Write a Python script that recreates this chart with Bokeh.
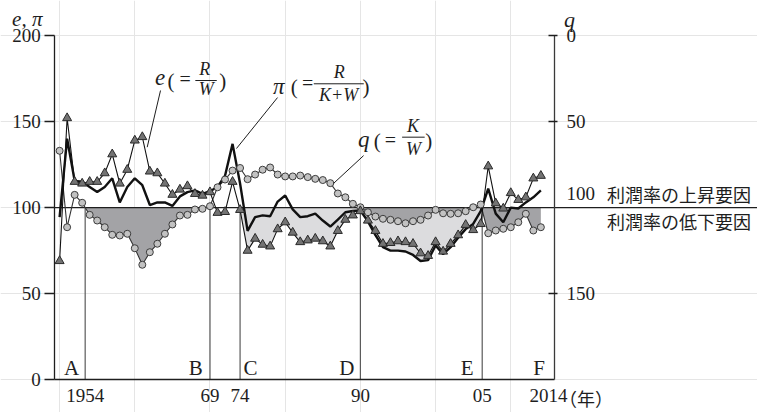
import numpy as np
from bokeh.plotting import figure
from bokeh.models import Range1d, LinearAxis, FixedTicker, Label
from bokeh.embed import file_html
from bokeh.resources import INLINE

# ---- data -------------------------------------------------------------
years = list(range(1950, 2015))

# e = R/W  (triangles)
e_ratio = [
    69, 152, 115, 114, 115, 115, 120, 131, 114, 122,
    139, 141, 121, 120, 114, 107.5, 110.5, 112.5, 108, 107,
    109, 97, 97.5, 115, 98.7, 75, 82, 78.5, 77.5, 87.5,
    91.5, 85.5, 80, 81, 82, 80.5, 77.5, 86.5, 93, 95.5,
    98, 92.5, 86.5, 79, 79.5, 80.5, 80, 79, 73.5, 72,
    80, 74.5, 79, 84, 90, 87, 90.5, 124, 102.5, 99.5,
    108.5, 104.5, 106, 117, 118.5,
]

# pi = R/(K+W)  (thick line)
pi_ratio = [
    94.5, 140, 115.5, 115, 112, 109, 112, 117, 103, 112,
    117, 113, 101.5, 103, 103, 101, 106.5, 109, 110, 108,
    109.5, 112, 118.5, 137, 114, 86.5, 94.5, 95.5, 95, 103.5,
    107, 99, 94.5, 95, 96.5, 92.5, 89, 93, 97.3, 98,
    98.3, 92, 84, 77, 75, 75, 74.5, 72.5, 69, 69.5,
    78, 73, 77, 82.5, 87.5, 90.5, 98, 111, 96.5, 91.5,
    100, 99.5, 103, 106, 110,
]

# q = K/W  (circles, read on the inverted right-hand scale)
q_ratio = [
    67, 111.4, 92.6, 97.2, 104.2, 107.5, 111.4, 115.8, 116.2, 115.2,
    123.6, 133.2, 125.9, 121, 115.2, 109.8, 104.6, 104.2, 101.1, 100.7,
    99.2, 88.2, 83.7, 78.5, 77, 83.5, 80.8, 78, 76.7, 80.8,
    81.9, 81.9, 81.4, 82.3, 83.3, 84, 85.8, 91.8, 94, 97.8,
    99.8, 102.7, 105.2, 106.5, 107.1, 107.9, 109.1, 107.9, 107.1, 104.6,
    101.3, 103.3, 103.6, 103.3, 102.1, 99.8, 98.2, 114.9, 113.3, 112.3,
    111.4, 108.5, 103.6, 113.3, 111.4,
]

# period boundaries and bottom tick labels
period_bounds = [1953.4, 1970.0, 1974.0, 1990.0, 2006.2]
tick_positions = period_bounds + [2015.0]
tick_labels = ["1954", "69", "74", "90", "05", "2014"]
period_letters = ["A", "B", "C", "D", "E", "F"]
letter_positions = [1951.6, 1968.1, 1975.4, 1988.2, 2004.2, 2013.75]

BASE = 100.0
# axis extents (data units) and the full drawing area around them
X_START, AXIS_END = 1949.36, 2015.81
VIEW_X = (1942.14, 2042.81)
VIEW_Y = (-18.99, 220.27)

SERIF = "Liberation Serif"
JP = "Noto Sans CJK JP"
INK = "#1e1e1e"


def decline_band(xs, ys, lo, hi, below=True):
    """Edge between BASE and a series on its 'decline' side, within [lo, hi]."""
    xs = np.asarray(xs, float)
    ys = np.asarray(ys, float)
    pts = [lo, hi] + [x for x in xs if lo < x < hi]
    for k in range(len(xs) - 1):
        a, b = ys[k] - BASE, ys[k + 1] - BASE
        if a * b < 0:
            xc = xs[k] + (xs[k + 1] - xs[k]) * a / (a - b)
            if lo < xc < hi:
                pts.append(xc)
    pts = np.array(sorted(pts))
    yv = np.interp(pts, xs, ys)
    return pts, (np.minimum(yv, BASE) if below else np.maximum(yv, BASE))


p = figure(
    width=757, height=412,
    x_range=Range1d(*VIEW_X), y_range=Range1d(*VIEW_Y),
    x_axis_location=None, y_axis_location=None,
    output_backend="svg", toolbar_location=None,
    min_border_left=0, min_border_right=0, min_border_top=0, min_border_bottom=0,
)
# q is read downward: 0 at the top of the left scale (200), 200 at its bottom (0)
p.extra_y_ranges = {"q": Range1d(200 - VIEW_Y[0], 200 - VIEW_Y[1])}
p.outline_line_color = None
p.background_fill_color = "white"
p.border_fill_color = "white"

# ---- axes -------------------------------------------------------------
label_style = dict(major_label_text_font=SERIF, major_label_text_font_size="19px",
                   major_label_text_color=INK)

xaxis = LinearAxis(
    ticker=FixedTicker(ticks=tick_positions),
    major_label_overrides={t: s for t, s in zip(tick_positions, tick_labels)},
    fixed_location=0, bounds=(X_START, AXIS_END),
    major_tick_in=0, major_tick_out=0, major_label_standoff=9,
    axis_line_color=INK, axis_line_width=1.3, **label_style,
)
p.add_layout(xaxis, "below")

yaxis = LinearAxis(
    ticker=FixedTicker(ticks=[0, 50, 100, 150, 200]),
    fixed_location=X_START, bounds=(0, 200),
    major_tick_in=0, major_tick_out=10, major_label_standoff=4,
    axis_line_color=INK, axis_line_width=1.3, major_tick_line_color=INK,
    major_tick_line_width=1.3, **label_style,
)
p.add_layout(yaxis, "left")

qaxis = LinearAxis(
    y_range_name="q", fixed_location=AXIS_END, bounds=(0, 200),
    ticker=FixedTicker(ticks=[0, 50, 150]),
    major_tick_in=6, major_tick_out=3, major_label_standoff=9,
    axis_line_color="#3a3a3a", axis_line_width=1.3, major_tick_line_color=INK,
    major_tick_line_width=1.3, **label_style,
)
p.add_layout(qaxis, "right")

# ---- shaded factor bands ------------------------------------------------
low_e = np.minimum(e_ratio, pi_ratio)
lx, ly = decline_band(years, low_e, period_bounds[2], period_bounds[4])
p.varea(x=lx, y1=ly, y2=BASE, fill_color="#dcdcde")

for lo, hi in [(period_bounds[0], period_bounds[1]), (period_bounds[3], years[-1])]:
    dx, dy = decline_band(years, q_ratio, lo, hi, below=False)
    p.varea(x=dx, y1=dy, y2=BASE, fill_color="#a3a3a6", y_range_name="q")

# ---- reference lines ----------------------------------------------------
p.segment(x0=[X_START], y0=[BASE], x1=[VIEW_X[1]], y1=[BASE], line_color=INK, line_width=1.3)
p.segment(x0=period_bounds, y0=0, x1=period_bounds, y1=BASE,
          line_color="#5a5a5a", line_width=1.2)

# ---- series -------------------------------------------------------------
p.line(years, q_ratio, y_range_name="q", line_color="#333333", line_width=1.1)
p.line(years, e_ratio, line_color="#111111", line_width=1.1)
p.line(years, pi_ratio, line_color="#111111", line_width=2.4)
p.scatter(years, q_ratio, y_range_name="q", marker="circle", size=7,
          fill_color="#c2c2c2", line_color="#3c3c3c", line_width=1)
p.scatter(years, e_ratio, marker="triangle", size=9,
          fill_color="#737373", line_color="#2a2a2a", line_width=1)


# ---- text ---------------------------------------------------------------
def put(x, y, text, size=20, italic=False, font=SERIF, align="center", baseline="middle"):
    p.add_layout(Label(x=x, y=y, text=text, text_font=font,
                       text_font_size=f"{size}px",
                       text_font_style="italic" if italic else "normal",
                       text_align=align, text_baseline=baseline, text_color=INK))


# axis titles
put(1945.7, 209.5, "e, π", size=21, italic=True)
put(2017.8, 209.2, "q", size=22, italic=True)

# right-hand notes around the 100 line
put(2017.4, 108.2, "100", size=19, align="left")
put(2022.8, 108.1, "利潤率の上昇要因", size=18, font=JP, align="left")
put(2022.8, 92.5, "利潤率の低下要因", size=18, font=JP, align="left")

# year unit
put(2020.0, -10.3, "（年）", size=18, font=JP)

# period letters
for xl, letter in zip(letter_positions, period_letters):
    put(xl, 7.1, letter, size=21)

# series labels: e (= R / W)
put(1963.35, 175.5, "e", size=23, italic=True)
put(1964.8, 173.4, "(", size=21)
put(1966.7, 174.8, "=", size=20)
put(1969.3, 180.2, "R", size=18, italic=True)
put(1969.5, 168.6, "W", size=18, italic=True)
put(1971.7, 173.4, ")", size=21)
p.segment(x0=[1968.05], y0=[173.8], x1=[1970.9], y1=[173.8], line_color=INK, line_width=1)
p.segment(x0=[1963.42], y0=[168.0], x1=[1961.65], y1=[135.1], line_color=INK, line_width=1)

# pi (= R / (K+W))
put(1979.15, 170.3, "π", size=23, italic=True)
put(1981.2, 170.0, "(", size=21)
put(1983.0, 172.6, "=", size=20)
put(1987.2, 178.7, "R", size=18, italic=True)
put(1987.1, 165.3, "K+W", size=18, italic=True)
put(1990.75, 170.0, ")", size=21)
p.segment(x0=[1983.8], y0=[171.9], x1=[1990.45], y1=[171.9], line_color=INK, line_width=1)
p.segment(x0=[1978.98], y0=[163.9], x1=[1973.52], y1=[134.3], line_color=INK, line_width=1)

# q (= K / W)
put(1990.45, 139.5, "q", size=23, italic=True)
put(1992.25, 138.5, "(", size=21)
put(1994.0, 139.2, "=", size=20)
put(1997.0, 147.1, "K", size=18, italic=True)
put(1997.05, 133.9, "W", size=18, italic=True)
put(1999.1, 138.5, ")", size=21)
p.segment(x0=[1995.55], y0=[140.9], x1=[1998.55], y1=[140.9], line_color=INK, line_width=1)
p.segment(x0=[1990.43], y0=[130.2], x1=[1986.42], y1=[114.0], line_color=INK, line_width=1)

open("out.html", "w").write(file_html(p, INLINE))
